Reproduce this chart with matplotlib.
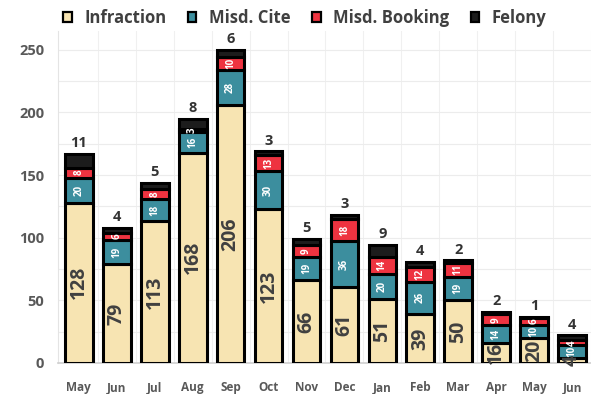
import matplotlib
matplotlib.use("Agg")
import matplotlib.pyplot as plt
import numpy as np
from matplotlib.patches import Patch

months = ["May", "Jun", "Jul", "Aug", "Sep", "Oct", "Nov", "Dec",
          "Jan", "Feb", "Mar", "Apr", "May", "Jun"]
infraction = [128, 79, 113, 168, 206, 123, 66, 61, 51, 39, 50, 16, 20, 4]
misd_cite = [20, 19, 18, 16, 28, 30, 19, 36, 20, 26, 19, 14, 10, 10]
misd_booking = [8, 6, 8, 3, 10, 13, 9, 18, 14, 12, 11, 9, 6, 4]
felony = [11, 4, 5, 8, 6, 3, 5, 3, 9, 4, 2, 2, 1, 4]

series = [
    ("Infraction", infraction, "#F7E4B2"),
    ("Misd. Cite", misd_cite, "#3C8E9E"),
    ("Misd. Booking", misd_booking, "#EE3340"),
    ("Felony", felony, "#1C1C1C"),
]

plt.rcParams["font.family"] = ["Open Sans", "DejaVu Sans"]
plt.rcParams["font.weight"] = "bold"

fig = plt.figure(figsize=(5.91, 3.94), dpi=100)
ax = fig.add_axes([58 / 591, 31 / 394, (591 - 58) / 591, 332 / 394])

x = np.arange(len(months))
width = 0.73
bottom = np.zeros(len(months))
for name, vals, color in series:
    vals = np.array(vals, dtype=float)
    ax.bar(x, vals, width, bottom=bottom, color=color, edgecolor="black",
           linewidth=2.2, zorder=3, label=name)
    for xi, b, v in zip(x, bottom, vals):
        if name == "Infraction":
            ax.text(xi, b + v / 2, f"{int(v)}", rotation=90, ha="center",
                    va="center", fontsize=14, color="#404040",
                    fontweight="bold", zorder=4)
        elif name in ("Misd. Cite", "Misd. Booking"):
            ax.text(xi, b + v / 2, f"{int(v)}", rotation=90, ha="center",
                    va="center", fontsize=7, color="white",
                    fontweight="bold", zorder=4)
        else:
            ax.text(xi, b + v + 3, f"{int(v)}", ha="center", va="bottom",
                    fontsize=10.5, color="#333333", fontweight="bold", zorder=4)
    bottom += vals

ax.set_xlim(-0.55, 13.37)
ax.set_ylim(0, 265)
ax.set_yticks([0, 50, 100, 150, 200, 250])
ax.set_xticks(x)
ax.set_xticklabels(months)
ax.tick_params(axis="x", length=0, labelsize=8.5, labelcolor="#595959", pad=13)
ax.tick_params(axis="y", length=0, labelsize=10.5, labelcolor="#595959", pad=10)
for lbl in ax.get_xticklabels() + ax.get_yticklabels():
    lbl.set_fontweight("bold")

ax.set_yticks(np.arange(0, 265, 25), minor=True)
ax.set_xticks(x + 0.5, minor=True)
ax.grid(axis="y", which="both", color="#ECECEC", linewidth=0.8, zorder=0)
ax.grid(axis="x", which="minor", color="#F0F0F0", linewidth=0.8, zorder=0)
ax.tick_params(which="minor", length=0)

for side in ["top", "right"]:
    ax.spines[side].set_visible(False)
ax.spines["left"].set_color("#E4E4E4")
ax.spines["bottom"].set_color("#CFCFCF")
ax.spines["bottom"].set_linewidth(1.2)

handles = [Patch(facecolor=c, edgecolor="black", linewidth=1.6, label=n)
           for n, _, c in series]
fig.legend(handles=handles, loc="upper center", bbox_to_anchor=(0.516, 1.015),
           ncol=4, frameon=False, handlelength=0.5,
           handleheight=0.5, columnspacing=1.3, handletextpad=0.75,
           labelcolor="#404040", prop={"weight": "bold", "size": 12})

fig.savefig("out.png", dpi=100)
